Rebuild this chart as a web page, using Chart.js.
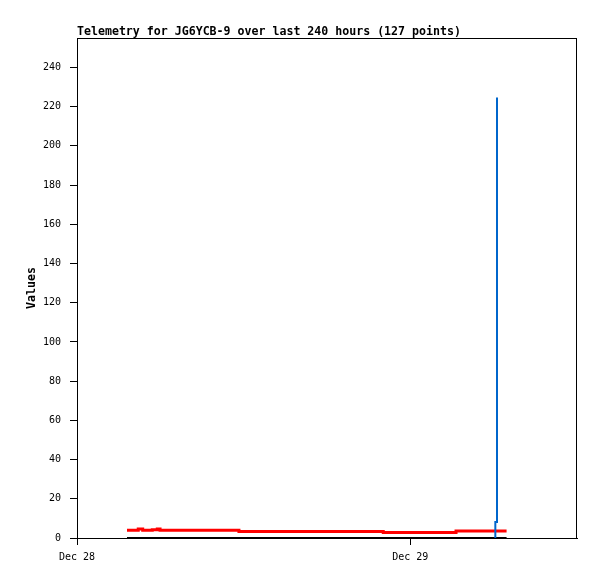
<!DOCTYPE html>
<html>
<head>
<meta charset="utf-8">
<title>Telemetry for JG6YCB-9</title>
<script src="https://cdn.jsdelivr.net/npm/chart.js@4.4.1/dist/chart.umd.min.js"></script>
<style>
	html, body { margin: 0; padding: 0; background: #fff; }
	#wrap { width: 597px; height: 579px; }
</style>
</head>
<body>
<div id="wrap"><canvas id="c1" width="597" height="579"></canvas></div>
<script>
// hours since Dec 28 00:00
var tickHours = [0, 24];
var tickLabels = ['Dec 28', 'Dec 29'];

var redHours = [3.60, 4.41, 4.73, 5.42, 5.78, 5.98, 11.66, 22.05, 27.29, 30.93];
var redValues = [3.9, 4.6, 3.9, 4.2, 4.6, 3.9, 3.3, 2.8, 3.6, 3.6];

var blueHours = [30.12, 30.12, 30.24, 30.24];
var blueValues = [0, 8.2, 8.2, 224.7];

var blackHours = [3.60, 30.93];
var blackValues = [0, 0];

function toPoints(xs, ys) {
	var pts = [];
	for (var i = 0; i < xs.length; i++) {
		pts.push({x: xs[i], y: ys[i]});
	}
	return pts;
}

var monoBold = {family: '"DejaVu Sans Mono", monospace', size: 11.6, weight: 'bold', lineHeight: 1.0};
var monoSmall = {family: '"DejaVu Sans Mono", monospace', size: 10};

// frame round the plot (top and right sides)
var framePlugin = {
	id: 'frame',
	afterDraw: function(chart) {
		var a = chart.chartArea;
		var ctx = chart.ctx;
		ctx.save();
		ctx.strokeStyle = '#000';
		ctx.lineWidth = 1;
		ctx.strokeRect(a.left + 0.5, a.top + 0.5, a.right - a.left - 1, a.bottom - a.top);
		ctx.restore();
	}
};

new Chart(document.getElementById('c1'), {
	type: 'line',
	data: {
		datasets: [{
			label: 'blue',
			data: toPoints(blueHours, blueValues),
			borderColor: '#0066cc',
			borderWidth: 2,
			pointRadius: 0,
			tension: 0
		}, {
			label: 'red',
			data: toPoints(redHours, redValues),
			borderColor: '#ff0000',
			borderWidth: 3,
			pointRadius: 0,
			stepped: true
		}, {
			label: 'black',
			data: toPoints(blackHours, blackValues),
			borderColor: '#000000',
			borderWidth: 2,
			pointRadius: 0,
			clip: false
		}]
	},
	options: {
		responsive: false,
		animation: false,
		layout: {padding: {left: 0, right: 20, top: 0, bottom: 0}},
		plugins: {
			legend: {display: false},
			tooltip: {enabled: false},
			title: {
				display: true,
				text: 'Telemetry for JG6YCB-9 over last 240 hours (127 points)',
				align: 'start',
				fullSize: false,
				color: '#000',
				font: monoBold,
				padding: {top: 26, bottom: 0.4}
			}
		},
		scales: {
			x: {
				type: 'linear',
				min: 0,
				max: 36,
				afterBuildTicks: function(axis) {
					axis.ticks = tickHours.map(function(h) { return {value: h}; });
				},
				afterFit: function(axis) { axis.height = 41; },
				ticks: {
					color: '#000',
					font: monoSmall,
					padding: 6,
					maxRotation: 0,
					callback: function(v) {
						var i = tickHours.indexOf(v);
						return i >= 0 ? tickLabels[i] : '';
					}
				},
				grid: {drawOnChartArea: false, color: '#000', tickLength: 7},
				border: {color: '#000', width: 1}
			},
			y: {
				min: 0,
				max: 255,
				afterBuildTicks: function(axis) {
					axis.ticks = axis.ticks.filter(function(t) { return t.value % 20 === 0; });
				},
				afterFit: function(axis) { axis.width = 77; },
				ticks: {
					stepSize: 20,
					color: '#000',
					font: monoSmall,
					padding: 9
				},
				title: {
					display: true,
					text: 'Values',
					color: '#000',
					font: monoBold,
					padding: {top: 26, bottom: 0}
				},
				grid: {drawOnChartArea: false, color: '#000', tickLength: 7},
				border: {color: '#000', width: 1}
			}
		}
	},
	plugins: [framePlugin]
});
</script>
</body>
</html>
